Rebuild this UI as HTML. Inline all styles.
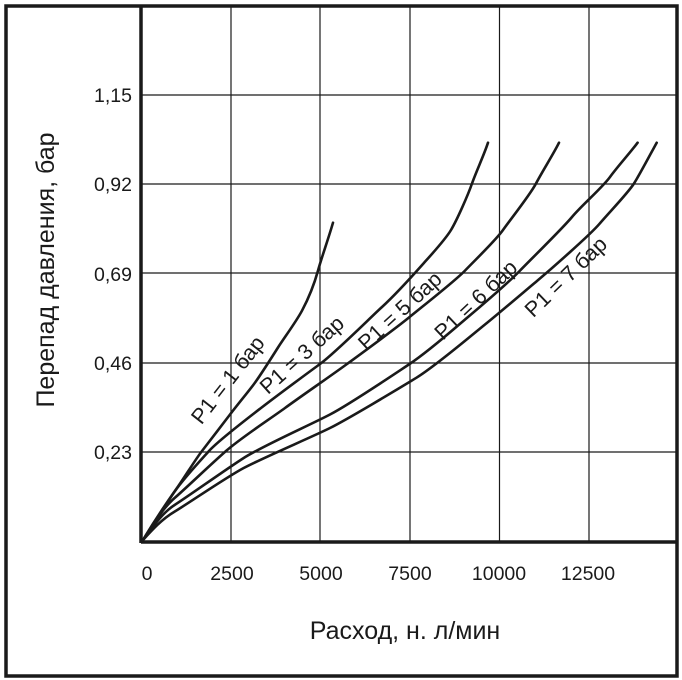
<!DOCTYPE html>
<html><head><meta charset="utf-8"><style>html,body{margin:0;padding:0;background:#fff}svg{display:block}</style></head>
<body>
<svg width="682" height="680" viewBox="0 0 682 680" xmlns="http://www.w3.org/2000/svg" font-family="'Liberation Sans', sans-serif" fill="#1a1a1a">
<rect x="0" y="0" width="682" height="680" fill="#fff"/>
<g stroke="#1a1a1a" stroke-width="1.2">
<line x1="231" y1="6" x2="231" y2="541"/>
<line x1="320" y1="6" x2="320" y2="541"/>
<line x1="410" y1="6" x2="410" y2="541"/>
<line x1="499.5" y1="6" x2="499.5" y2="541"/>
<line x1="589" y1="6" x2="589" y2="541"/>
<line x1="142" y1="95" x2="677" y2="95"/>
<line x1="142" y1="184" x2="677" y2="184"/>
<line x1="142" y1="273" x2="677" y2="273"/>
<line x1="142" y1="363" x2="677" y2="363"/>
<line x1="142" y1="452" x2="677" y2="452"/>
</g>
<rect x="6" y="6" width="671" height="670" fill="none" stroke="#1a1a1a" stroke-width="3.5"/>
<line x1="141" y1="6" x2="141" y2="543" stroke="#1a1a1a" stroke-width="3.5"/>
<line x1="141" y1="542" x2="677" y2="542" stroke="#1a1a1a" stroke-width="3.5"/>
<g fill="none" stroke="#1a1a1a" stroke-width="2.6" stroke-linejoin="round" stroke-linecap="round">
<path d="M143,540 C155,520 165,505 174.6,491.5 S195,460 202,451 S222,425 230,414.5 S248,392 254,384 S272,357 278,347.5 S296,322 302,310.7 S314,285 318,270.6 S328,240 333,222.7"/>
<path d="M143,540 C155,525 165,505 174.6,491.5 S200,461 209,451 S248,418 261,408 S305,375 320,364 S370,318 382,307 S415,273 423,264 S445,240 451,230 S468,195 472,183.5 S484,155 488,142.7"/>
<path d="M143,540 C152,525 163,508 174.6,498 S210,465 226,451 S270,419 285,408 S332,375 347,364 S395,329 409.6,317 S455,281 465,270.6 S496,240 503,230 S530,195 536,183.5 S554,153 559,142.7"/>
<path d="M143,540 C152,528 162,513 174.6,505 S225,470 243.7,458 S310,425 330,414.5 S390,377 409.6,364 S455,328 468,317 S510,281 520,270.6 S562,229 572,217 S602,188 610,177 S630,153 637.6,142.7"/>
<path d="M143,540 C152,530 162,519 174.6,511.6 S225,478 243.7,468 S312,437 330,428 S398,389 416.5,377.7 S472,335 485.6,324 S525,291 537.4,280.6 S590,235 599.6,223.7 S628,193 634,183.5 S651,153 656.7,142.7"/>
</g>
<g font-size="21.5" text-anchor="middle" dominant-baseline="central">
<text transform="translate(228,380) rotate(-52)">P1 = 1 бар</text>
<text transform="translate(302,355) rotate(-42)">P1 = 3 бар</text>
<text transform="translate(400,311) rotate(-42.5)">P1 = 5 бар</text>
<text transform="translate(476,300) rotate(-43.5)">P1 = 6 бар</text>
<text transform="translate(566,277) rotate(-44)">P1 = 7 бар</text>
</g>
<g font-size="19.5" text-anchor="end">
<text x="132" y="102">1,15</text>
<text x="132" y="191">0,92</text>
<text x="132" y="281">0,69</text>
<text x="132" y="370">0,46</text>
<text x="132" y="459">0,23</text>
</g>
<g font-size="19.5" text-anchor="middle">
<text x="147" y="580">0</text>
<text x="232" y="580">2500</text>
<text x="321" y="580">5000</text>
<text x="410" y="580">7500</text>
<text x="499" y="580">10000</text>
<text x="588" y="580">12500</text>
</g>
<text x="405" y="639" font-size="25" text-anchor="middle">Расход, н. л/мин</text>
<text transform="translate(54,270) rotate(-90)" font-size="25" text-anchor="middle">Перепад давления, бар</text>
</svg>
</body></html>
